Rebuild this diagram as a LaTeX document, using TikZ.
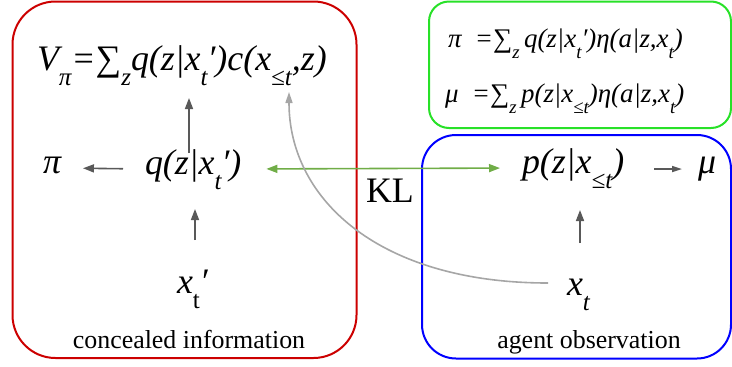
\documentclass[tikz,border=0pt]{standalone}
\usepackage{fontspec}
\usepackage{graphicx}
\setmainfont{LiberationSerif}[Extension=.ttf,UprightFont=*-Regular,ItalicFont=*-Italic,BoldFont=*-Bold,BoldItalicFont=*-BoldItalic]
\usetikzlibrary{arrows.meta,calc}
\definecolor{boxred}{RGB}{204,0,0}
\definecolor{boxblue}{RGB}{0,0,255}
\definecolor{boxgreen}{RGB}{40,225,40}
\definecolor{klgreen}{RGB}{112,173,71}
\definecolor{dgray}{RGB}{89,89,89}
\definecolor{lgray}{RGB}{166,166,166}
\newcommand\lo[1]{\raisebox{-0.42em}{\scalebox{0.7}{#1}}}
\newcommand\bigf{\fontsize{36}{40}\selectfont\itshape}
\newcommand\smallf{\fontsize{27}{30}\selectfont\itshape}
\begin{document}
\begin{tikzpicture}[x=1bp,y=-1bp,
  txt/.style={inner sep=0pt,outer sep=0pt,anchor=base west},
  frame/.style={line width=2bp},
  darr/.style={draw=dgray,line width=1.6bp,-{Triangle[length=11bp,width=8bp]}},
  sarr/.style={draw=dgray,line width=1.6bp,-{Triangle[length=10bp,width=6bp]}},
  karr/.style={draw=klgreen,line width=1.6bp,{Triangle[length=11bp,width=8bp]}-{Triangle[length=11bp,width=8bp]}},
  garr/.style={draw=lgray,line width=1.6bp,-{Triangle[length=11bp,width=7bp]}},
  lab/.style={inner sep=0pt,anchor=base,font=\fontsize{26}{30}\selectfont}]
\useasboundingbox (0,0) rectangle (732,366);
% frames
\draw[frame,draw=boxred,rounded corners=43bp] (12.5,1.5) rectangle (356.5,358);
\draw[frame,draw=boxgreen,rounded corners=20bp] (429,1.5) rectangle (731,128);
\draw[frame,draw=boxblue,rounded corners=34bp] (422,135) rectangle (731,358.5);
% texts
\node[txt] (V) at (37,70) {\bigf V\lo{π}=∑\lo{z}q(z|x\lo{t}′)c(x\lo{≤t},z)};
\node[txt] (pi) at (43,173) {\bigf π};
\node[txt] (q) at (145,174) {\bigf q(z|x\lo{t}′)};
\node[txt] (p) at (522,173) {\bigf p(z|x\lo{≤t})};
\node[txt] (mu) at (698,173) {\bigf μ};
\node[txt] (KL) at (366,202) {\fontsize{36}{40}\selectfont KL};
\node[txt] (xtp) at (177,293) {\bigf x\lo{\upshape t}′};
\node[txt] (xt) at (567,295) {\bigf x\lo{t}};
\node[lab] (ci) at (189,348) {concealed information};
\node[lab] (ao) at (589,348) {agent observation};
\node[txt] (eq1) at (448,47) {\smallf π\ \ =∑\lo{z}\,q(z|x\lo{t}′)η(a|z,x\lo{t})};
\node[txt] (eq2) at (445,102) {\smallf μ\ \ =∑\lo{z}\,p(z|x\lo{≤t})η(a|z,x\lo{t})};
\coordinate (Vsub) at (289,92);
% connectors
\draw[darr] ([xshift=44bp,yshift=21bp]q.base west) -- ([xshift=44bp,yshift=76bp]q.base west);
\draw[darr,shorten <=22bp,shorten >=22bp] ([yshift=5bp]q.base west) -- ([yshift=5bp]pi.base east);
\draw[karr,shorten <=25bp,shorten >=22bp] ([yshift=5bp]q.base east) -- ([yshift=5bp]p.base west);
\draw[sarr,shorten <=30bp,shorten >=16bp] ([yshift=4bp]p.base east) -- ([yshift=4bp]mu.base west);
\draw[darr] ([xshift=18bp,yshift=53bp]xtp.base west) -- ([xshift=18bp,yshift=84bp]xtp.base west);
\draw[darr] ([xshift=13bp,yshift=52bp]xt.base west) -- ([xshift=13bp,yshift=85bp]xt.base west);
\draw[garr] ([xshift=-19bp,yshift=12bp]xt.base west) .. controls (380,283) and (289,200) .. (Vsub);
\end{tikzpicture}
\end{document}
